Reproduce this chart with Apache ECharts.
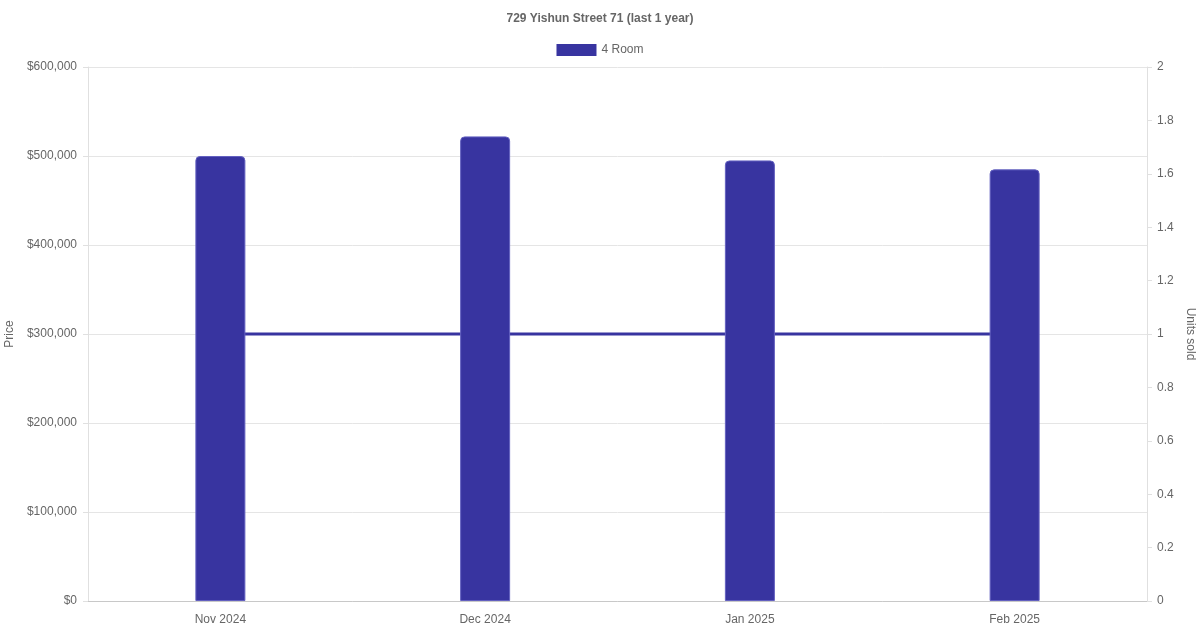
<!DOCTYPE html>
<html>
<head>
<meta charset="utf-8">
<script src="https://cdn.jsdelivr.net/npm/echarts@6/dist/echarts.min.js"></script>
<style>html,body{margin:0;padding:0;background:#fff;}#c{width:1200px;height:630px;}</style>
</head>
<body>
<div id="c"></div>
<script>
const categories = ['Nov 2024', 'Dec 2024', 'Jan 2025', 'Feb 2025'];
const priceValues = [500000, 522000, 495000, 485000];
const unitsSold = [1, 1, 1, 1];

const chart = echarts.init(document.getElementById('c'));
const FONT = 'Liberation Sans, Arial, sans-serif';
const BAR = '#3834a0';
chart.setOption({
  animation: false,
  textStyle: { fontFamily: FONT },
  title: {
    text: '729 Yishun Street 71 (last 1 year)',
    left: 'center', top: 8,
    textStyle: { fontFamily: FONT, fontSize: 12, fontWeight: 'bold', color: '#666' }
  },
  legend: {
    data: ['4 Room'],
    top: 39, left: 'center',
    itemWidth: 40, itemHeight: 12, itemGap: 10,
    textStyle: { fontFamily: FONT, fontSize: 12, color: '#666' },
    itemStyle: { borderWidth: 0 },
    icon: 'rect'
  },
  grid: { left: 88, right: 53, top: 67, bottom: 29, containLabel: false, outerBoundsMode: 'none' },
  xAxis: {
    type: 'category',
    data: categories,
    axisLine: { show: true, lineStyle: { color: '#c8c8c8' } },
    axisTick: { show: false },
    splitLine: { show: false },
    axisLabel: { color: '#666', fontSize: 12, fontFamily: FONT, margin: 13 }
  },
  yAxis: [
    {
      type: 'value', min: 0, max: 600000, interval: 100000,
      name: 'Price', nameLocation: 'middle', nameGap: 70, nameRotate: 90,
      nameTextStyle: { color: '#666', fontSize: 12, fontFamily: FONT },
      axisLine: { show: true, lineStyle: { color: '#e0e0e0' } },
      axisTick: { show: true, length: 5, lineStyle: { color: '#e0e0e0' } },
      splitLine: { show: true, lineStyle: { color: '#e5e5e5' } },
      axisLabel: {
        color: '#666', fontSize: 12, fontFamily: FONT, margin: 11,
        formatter: v => '$' + v.toLocaleString('en-US')
      }
    },
    {
      type: 'value', min: 0, max: 2, interval: 0.2, position: 'right',
      name: 'Units sold', nameLocation: 'middle', nameGap: 31, nameRotate: -90,
      nameTextStyle: { color: '#666', fontSize: 12, fontFamily: FONT },
      axisLine: { show: true, lineStyle: { color: '#e0e0e0' } },
      axisTick: { show: true, length: 5, lineStyle: { color: '#e0e0e0' } },
      splitLine: { show: false },
      axisLabel: {
        color: '#666', fontSize: 12, fontFamily: FONT, margin: 10,
        formatter: v => String(Math.round(v * 10) / 10)
      }
    }
  ],
  series: [
    {
      name: 'Units',
      type: 'line',
      yAxisIndex: 1,
      data: unitsSold,
      showSymbol: false,
      symbol: 'none',
      lineStyle: { color: BAR, width: 3 },
      itemStyle: { color: BAR },
      z: 1
    },
    {
      name: '4 Room',
      type: 'bar',
      yAxisIndex: 0,
      data: priceValues,
      barWidth: 50,
      itemStyle: { color: BAR, borderColor: '#6360c0', borderWidth: 1, borderRadius: [4, 4, 0, 0] },
      z: 2
    }
  ]
});
</script>
</body>
</html>
